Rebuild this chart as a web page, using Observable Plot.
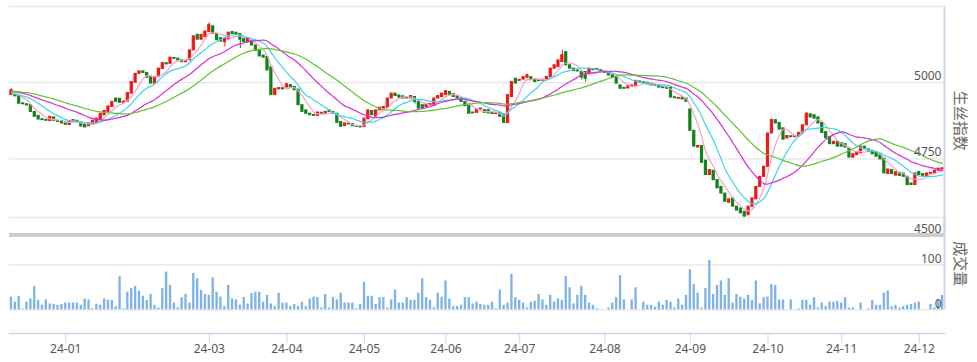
<!DOCTYPE html>
<html><head><meta charset="utf-8">
<script src="https://cdn.jsdelivr.net/npm/d3@7"></script>
<script src="https://cdn.jsdelivr.net/npm/@observablehq/plot@0.6"></script>
<style>
html,body{margin:0;padding:0;background:#fff;overflow:hidden}
#chart{position:relative;width:977px;height:362px}
#chart svg{position:absolute;left:0;top:0}
</style></head><body><div id="chart"></div>
<script>
// closes before the first visible session (only used to seed the moving averages)
const priorCloses = [4960,4966,4972,4968,4962,4968,4975,4980,4976,4970,4985,4990,4996,4988,4980,4985,4978,4972,4968,4965,4970,4962,4958,4965,4960,4955,4962,4968,4960];

const opens = [
4959,4964,4958,4932,4929,4926,4904,4891,4880,4878,
4874,4886,4875,4874,4866,4861,4873,4875,4868,4862,
4857,4863,4866,4876,4893,4904,4920,4948,4947,4934,
4937,4964,5000,5029,5037,5032,5018,4997,5018,5045,
5064,5062,5081,5079,5073,5067,5073,5106,5157,5141,
5150,5166,5185,5160,5146,5133,5142,5166,5164,5160,
5144,5133,5137,5122,5108,5089,5084,5051,4959,4978,
4982,4984,4992,4986,4977,4926,4909,4898,4894,4891,
4901,4897,
4909,4904,4898,4871,4858,4866,4864,4858,4856,4855,
4880,4907,4888,4909,4915,4918,4948,4964,4958,4955,
4951,4948,4953,4937,4926,4920,4927,4923,4948,4953,
4959,4970,4962,4955,4948,4937,4923,4902,4901,4912,
4910,4910,4900,4897,4901,4893,4868,4953,5013,5006,
5010,5016,5018,5010,5008,5006,5011,5017,5046,5051,
5068,5100,5057,5046,5040,5035,5035,5028,5044,5042,
5041,5038,5032,5024,5019,4991,4983,4981,4988,4988,
5004,
5001,5000,4997,4990,4991,4985,4984,4984,4952,4947,
4951,4948,4912,4842,4787,4792,4744,4697,4711,4680,
4658,4636,4606,4620,4593,4587,4576,4565,4593,4617,
4658,4691,4724,4833,4877,4868,4850,4817,4824,4821,
4822,4833,4860,4896,4893,4886,4868,4838,4822,4798,
4806,4802,4798,4784,4754,4762,4768,4790,4781,4776,
4770,4762,4751,4700,4713,4695,4704,4702,4691,4669,
4664,4707,4700,4694,4701,4702,4711,4715];

const closes = [
4975,4955,4931,4929,4925,4904,4888,4879,4877,4875,
4888,4875,4871,4866,4862,4874,4877,4871,4856,4853,
4866,4875,4882,4898,4907,4922,4937,4937,4934,4938,
4966,5002,5029,5037,5032,5016,4997,5016,5046,5064,
5060,5082,5078,5073,5067,5072,5106,5152,5141,5157,
5168,5190,5160,5139,5135,5144,5164,5160,5157,5141,
5133,5146,5122,5104,5086,5082,5040,4959,4980,4982,
4978,4995,4984,4975,4926,4904,4898,4893,4891,4902,
4898,4904,
4904,4898,4868,4855,4866,4863,4857,4855,4853,4882,
4909,4893,4909,4918,4920,4948,4964,4956,4951,4948,
4948,4956,4937,4915,4915,4929,4930,4948,4956,4964,
4972,4959,4953,4948,4937,4923,4898,4899,4912,4915,
4901,4899,4897,4900,4888,4868,4959,5002,4997,5009,
5018,5024,5008,5002,5005,5010,5019,5046,5057,5073,
5090,5057,5046,5038,5037,5017,5013,5046,5041,5045,
5035,5032,5024,5017,4997,4980,4980,4988,4991,5006,
5001,
4998,4995,4991,4993,4984,4982,4980,4951,4949,4950,
4945,4937,4842,4790,4792,4737,4697,4713,4680,4653,
4636,4609,4617,4593,4580,4571,4560,4593,4620,4658,
4691,4724,4833,4877,4866,4846,4813,4825,4821,4825,
4835,4860,4898,4886,4882,4866,4835,4817,4798,4806,
4790,4790,4787,4754,4765,4772,4790,4781,4773,4765,
4757,4748,4702,4715,4700,4706,4694,4691,4664,4664,
4702,4697,4694,4702,4704,4711,4718,4719];

// visible wick extremes (others equal the body)
const wicks = [
  {i:0,h:4980},{i:51,h:5195},{i:55,l:5117},{i:59,l:5112},{i:104,l:4930},
  {i:133,h:5028},{i:142,h:5106},{i:147,l:5008},{i:148,l:5002},
  {i:189,l:4557},{i:196,h:4881},{i:205,h:4902}
];

const volumes = [
28,17,30,2,17,24,52,21,10,22,13,12,10,12,
15,15,15,15,10,24,22,2,12,10,24,21,21,7,
74,2,39,47,52,41,30,21,34,10,4,47,84,54,
15,4,27,34,15,81,69,43,34,32,71,39,28,7,
54,24,22,10,27,13,36,39,39,17,32,13,7,37,
15,15,7,12,7,17,7,24,28,27,4,34,4,27,
22,37,15,15,15,2,12,61,30,30,12,27,27,4,
22,44,15,15,27,21,21,37,69,27,21,4,37,28,
64,24,7,7,10,27,27,13,17,12,
10,10,17,2,44,10,15,79,27,21,15,4,17,19,
34,22,10,32,17,24,21,74,49,13,32,52,32,15,
10,2,0,0,4,15,27,76,22,0,22,49,0,17,
10,10,6,17,10,21,17,4,24,10,32,89,56,37,
4,47,110,34,54,64,32,69,15,34,28,24,32,21,
64,13,27,28,56,54,22,22,0,22,0,2,21,21,
10,27,4,15,7,17,17,19,15,27,4,4,0,15,
0,2,21,10,10,37,42,7,10,4,7,10,12,15,
17,0,0,12,4,21,32];

const tickIndex  = [14,51,71,91,112,131,153,175,195,214,234];
const tickLabels = ["24-01","24-03","24-04","24-05","24-06","24-07","24-08","24-09","24-10","24-11","24-12"];
const maPeriods = [5,10,20,30];
const maColors  = ["#f5a0c8","#3ad6ea","#d62fd6","#62c236"];
const priceTicks = [4500,4750,5000];
const priceGrid  = [4750,5000,5250];
const priceDomain = [4500,5250];
const volumeTicks = [0,100];
const volumeDomain = [0,205];
const priceTitle = "生丝指数";
const volumeTitle = "成交量";

const N = closes.length;
const red = "#f01616", green = "#13801a";
const candles = closes.map((c, i) => {
  const o = opens[i];
  const w = wicks.find(d => d.i === i) || {};
  return {i, o, c, h: w.h ?? Math.max(o, c), l: w.l ?? Math.min(o, c),
          col: c >= o ? red : green, v: volumes[i] ?? 0};
});
const all = priorCloses.concat(closes);
const maData = maPeriods.flatMap((n, k) => closes.map((_, i) => {
  const j = i + priorCloses.length;
  return {i, ma: d3.mean(all.slice(Math.max(0, j - n + 1), j + 1)), k: "MA" + n, col: maColors[k]};
}));

const W = 977, ML = 9, MR = 33;
const xDomain = [-0.5, N - 0.5];
const font = "'Noto Sans','Noto Sans CJK SC',sans-serif";
const axisCol = "#ccd6eb", gridCol = "#e6e6e6", textCol = "#555";

const price = Plot.plot({
  width: W, height: 240, marginLeft: ML, marginRight: MR, marginTop: 6, marginBottom: 5.5,
  x: {domain: xDomain, axis: null},
  y: {domain: priceDomain, axis: null},
  color: {type: "identity"},
  style: {fontFamily: font, fontSize: "12px", background: "white", overflow: "visible"},
  marks: [
    Plot.ruleY(priceGrid, {stroke: gridCol, strokeWidth: 1.3}),
    Plot.ruleY([priceDomain[0]], {stroke: "#cccccc", strokeWidth: 4}),
    Plot.ruleX(candles, {x: "i", y1: "l", y2: "h", stroke: "col", strokeWidth: 1}),
    Plot.rect(candles, {x1: d => d.i - 0.28, x2: d => d.i + 0.28, y1: "o", y2: "c", fill: "col", stroke: "col", strokeWidth: 1}),
    Plot.line(maData, {x: "i", y: "ma", z: "k", stroke: "col", strokeWidth: 1.2, curve: "catmull-rom"}),
    Plot.ruleX([N - 0.5], {stroke: axisCol, strokeWidth: 2}),
    Plot.text(priceTicks, {x: () => N - 0.5, y: d => d, text: d => String(d), textAnchor: "end", lineAnchor: "bottom", dx: -3, dy: -2.5, fill: textCol, fontSize: 12}),
    Plot.text([priceTitle], {frameAnchor: "right", textAnchor: "middle", rotate: 90, dx: 15, fontSize: 15, fill: "#666"})
  ]
});

const vol = Plot.plot({
  width: W, height: 362, marginLeft: ML, marginRight: MR, marginTop: 217, marginBottom: 29,
  x: {domain: xDomain},
  y: {domain: volumeDomain, range: [309.3, 217], axis: null},
  color: {type: "identity"},
  style: {fontFamily: font, fontSize: "12px", background: "transparent", overflow: "visible"},
  marks: [
    Plot.ruleY([...volumeTicks, volumeDomain[1]], {stroke: gridCol, strokeWidth: 1.3}),
    Plot.rectY(candles, {x1: d => d.i - 0.3, x2: d => d.i + 0.3, y: "v", fill: "#7fb3e6"}),
    Plot.ruleX([N - 0.5], {y1: () => volumeDomain[0], y2: () => volumeDomain[1], stroke: axisCol, strokeWidth: 2}),
    Plot.frame({anchor: "bottom", stroke: axisCol, strokeWidth: 1.5}),
    Plot.axisX({ticks: tickIndex, tickFormat: t => tickLabels[tickIndex.indexOf(t)], tickSize: 10, tickPadding: 1, stroke: axisCol, fill: textCol, fontSize: 12}),
    Plot.text(volumeTicks, {x: () => N - 0.5, y: d => d, text: d => String(d), textAnchor: "end", lineAnchor: "bottom", dx: -3, dy: -2, fill: textCol, fontSize: 12}),
    Plot.text([volumeTitle], {y: () => d3.mean(volumeDomain), frameAnchor: "right", textAnchor: "middle", rotate: 90, dx: 15, fontSize: 15, fill: "#666"})
  ]
});

const el = document.getElementById("chart");
el.appendChild(price);
el.appendChild(vol);
</script></body></html>
